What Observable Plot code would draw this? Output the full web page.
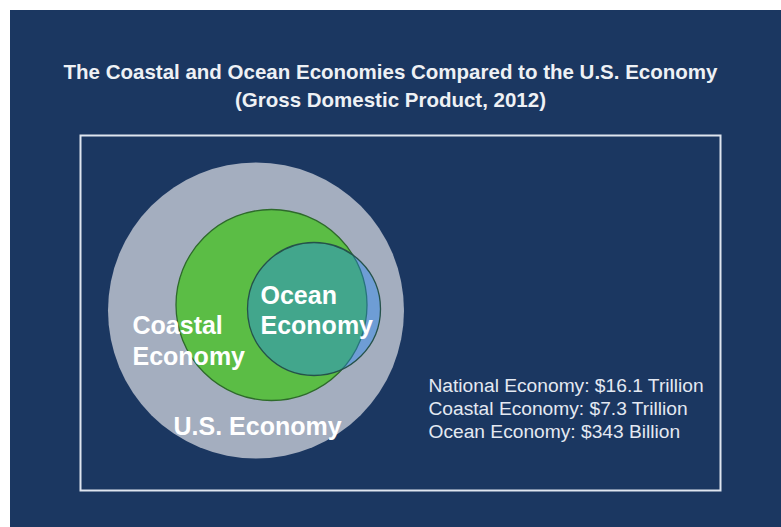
<!DOCTYPE html>
<html>
<head>
<meta charset="utf-8">
<script src="https://cdn.jsdelivr.net/npm/d3@7"></script>
<script src="https://cdn.jsdelivr.net/npm/@observablehq/plot@0.6"></script>
<style>
  html, body { margin: 0; padding: 0; background: #ffffff; width: 781px; height: 527px; overflow: hidden; }
  #bg { position: absolute; left: 10px; top: 10px; width: 771px; height: 517px; background: #1b3761; }
  #title { position: absolute; left: 0; top: 58px; width: 781px; text-align: center;
           font-family: "Liberation Sans", Arial, sans-serif; font-weight: bold; font-size: 20.5px;
           line-height: 28px; color: #eef1f5; }
  #chart { position: absolute; left: 0; top: 0; }
</style>
</head>
<body>
<div id="bg"></div>
<div id="title">The Coastal and Ocean Economies Compared to the U.S. Economy<br>(Gross Domestic Product, 2012)</div>
<div id="chart"></div>
<script>
// Data
const economyNames = ["National Economy", "Coastal Economy", "Ocean Economy"];
const gdpValues = ["$16.1 Trillion", "$7.3 Trillion", "$343 Billion"];
const circleNames = ["U.S. Economy", "Coastal Economy", "Ocean Economy"];

// Diagram layout (units inside the framed box)
const circleX = [175.5, 191, 233.5];
const circleY = [175, 169.5, 173.5];
const circleR = [148, 95.5, 66.5];
const circleFill = ["#a4aebf", "#5bbd45", "#1e84f7"];
const circleOpacity = [1, 1, 0.4];
const circleStroke = ["none", "#2e6a2b", "#25524a"];

const labelLines = [
  {text: "Coastal", x: 52, y: 190},
  {text: "Economy", x: 52, y: 221.5},
  {text: "Ocean", x: 180, y: 160},
  {text: "Economy", x: 180, y: 190.5},
  {text: "U.S. Economy", x: 93, y: 291.5}
];
const statsX = 348, statsY = 272;

const circles = circleNames.map((name, i) => ({
  name, x: circleX[i], y: circleY[i], r: circleR[i],
  fill: circleFill[i], opacity: circleOpacity[i], stroke: circleStroke[i]
}));
const statsText = economyNames.map((n, i) => `${n}: ${gdpValues[i]}`).join("\n");

const marks = [Plot.frame({stroke: "#dfe5ef", strokeWidth: 2})];
circles.forEach(c => {
  marks.push(Plot.dot([c], {
    x: "x", y: "y", r: "r",
    fill: c.fill, fillOpacity: c.opacity,
    stroke: c.stroke, strokeWidth: 1.3
  }));
});
marks.push(Plot.text(labelLines, {
  x: "x", y: "y", text: "text", textAnchor: "start",
  fill: "#ffffff", fontSize: 25, fontWeight: "bold"
}));
marks.push(Plot.text([statsText], {
  x: [statsX], y: [statsY], text: d => d, textAnchor: "start", lineAnchor: "middle",
  lineHeight: 1.2, fill: "#e4e9f2", fontSize: 19.2
}));

const chart = Plot.plot({
  width: 781,
  height: 527,
  marginLeft: 80,
  marginRight: 61,
  marginTop: 135,
  marginBottom: 37,
  x: {domain: [0, 640], axis: null},
  y: {domain: [355, 0], axis: null},
  r: {type: "linear", domain: [0, 148], range: [0, 148]},
  style: {background: "transparent", fontFamily: "'Liberation Sans', Arial, sans-serif", overflow: "visible"},
  marks
});
document.getElementById("chart").appendChild(chart);
</script>
</body>
</html>
